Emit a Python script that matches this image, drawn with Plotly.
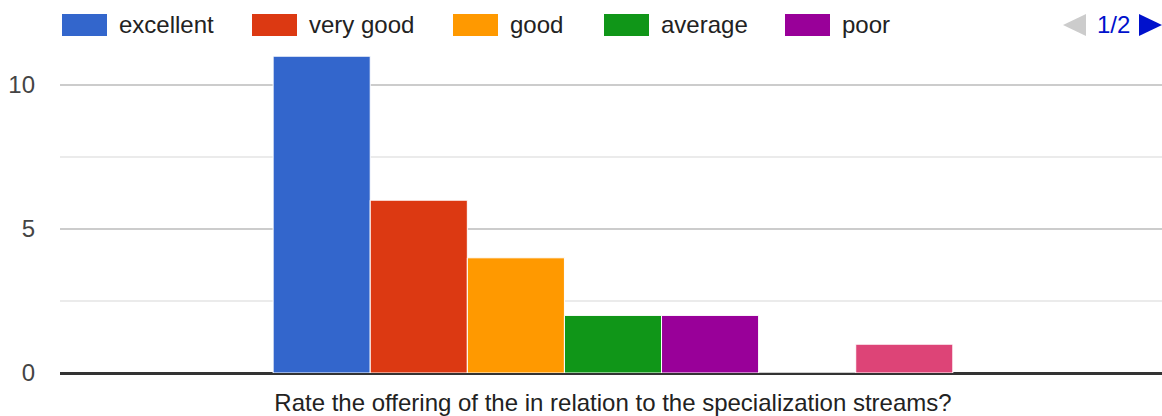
import plotly.graph_objects as go

categories = ["Rate the offering of the in relation to the specialization streams?"]
series_names = ["excellent", "very good", "good", "average", "poor", "very poor", "not applicable"]
series_values = [11, 6, 4, 2, 2, 0, 1]
series_colors = ["#3366cc", "#dc3912", "#ff9900", "#109618", "#990099", "#0099c6", "#dd4477"]
y_ticks = [0, 5, 10]
legend_page = "1/2"

W, H = 1162, 416
L, R, T, B = 60, 0, 13, 43
pw, ph = W - L - R, H - T - B

def px(x):
    return (x - L) / pw

def py(y):
    return (H - B - y) / ph

fig = go.Figure()
for name, val, col in zip(series_names, series_values, series_colors):
    fig.add_trace(go.Bar(
        x=categories, y=[val], name=name,
        marker=dict(color=col, line=dict(color="white", width=1)),
        showlegend=False,
    ))

FONT = "Liberation Sans, Arial, sans-serif"
shapes = []
annotations = []
# manual legend (first page: 5 items)
leg_x = [62, 252, 453, 604, 785]
for i in range(5):
    x0 = leg_x[i]
    shapes.append(dict(type="rect", xref="paper", yref="paper",
                       x0=px(x0), x1=px(x0 + 45), y0=py(36), y1=py(14),
                       fillcolor=series_colors[i], line=dict(width=0), layer="above"))
    annotations.append(dict(xref="paper", yref="paper", x=px(x0 + 55), y=py(25),
                            text=series_names[i], showarrow=False, xanchor="left",
                            yanchor="middle", font=dict(family=FONT, size=24, color="#222222")))
# pager
shapes.append(dict(type="path", xref="paper", yref="paper",
                   path=f"M {px(1086)} {py(14)} L {px(1063)} {py(25)} L {px(1086)} {py(36)} Z",
                   fillcolor="#cccccc", line=dict(width=0)))
shapes.append(dict(type="path", xref="paper", yref="paper",
                   path=f"M {px(1139)} {py(14)} L {px(1162)} {py(25)} L {px(1139)} {py(36)} Z",
                   fillcolor="#0011cc", line=dict(width=0)))
annotations.append(dict(xref="paper", yref="paper", x=px(1113), y=py(25), text=legend_page,
                        showarrow=False, xanchor="center", yanchor="middle",
                        font=dict(family=FONT, size=24, color="#0011cc")))

fig.update_layout(
    width=W, height=H,
    margin=dict(l=L, r=R, t=T, b=B, pad=0),
    paper_bgcolor="white", plot_bgcolor="white",
    barmode="group", bargap=0.381, bargroupgap=0,
    font=dict(family=FONT, size=24, color="#444444"),
    showlegend=False,
    shapes=shapes, annotations=annotations,
    xaxis=dict(range=[-0.5036, 0.5], showgrid=False, zeroline=False, showline=False,
               ticks="", tickfont=dict(size=24, color="#222222"), ticklabelstandoff=13),
    yaxis=dict(range=[0, 12.5], tickvals=y_ticks, showgrid=True, gridcolor="#cccccc",
               gridwidth=1.5, zeroline=True, zerolinecolor="#333333", zerolinewidth=3,
               showline=False, ticks="", ticklabelstandoff=24,
               tickfont=dict(size=24, color="#444444"),
               minor=dict(dtick=2.5, tick0=0, showgrid=True, gridcolor="#ebebeb", gridwidth=1.5)),
)
fig.write_html("out.html", config={"displayModeBar": False},
               post_script="document.body.style.margin='0px';")
